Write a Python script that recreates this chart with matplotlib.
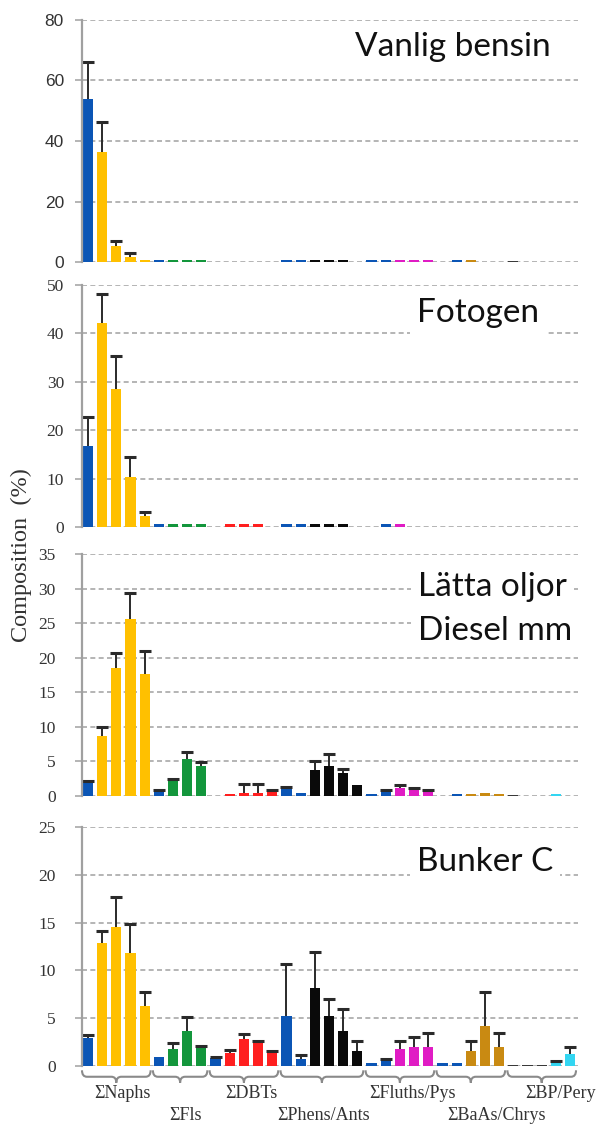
import numpy as np
import matplotlib
matplotlib.use('Agg')
import matplotlib.pyplot as plt
from matplotlib.path import Path
from matplotlib.patches import PathPatch
import matplotlib.transforms as mtransforms

# Compound groups and how many bars each has
groups = ['ΣNaphs', 'ΣFls', 'ΣDBTs', 'ΣPhens/Ants', 'ΣFluths/Pys', 'ΣBaAs/Chrys', 'ΣBP/Pery']
group_sizes = [5, 4, 5, 6, 5, 5, 5]

# Colours per group
blue = '#0b55b5'
group_colors = [
    [blue] + ['#ffc000'] * 4,
    [blue] + ['#13963c'] * 3,
    [blue] + ['#ff1f1f'] * 4,
    [blue, blue] + ['#0a0a0a'] * 4,
    [blue, blue] + ['#e01cc4'] * 3,
    [blue, blue] + ['#c98a12'] * 3,
    ['#3a3a3a'] * 3 + ['#33d6f2'] * 2,
]

panel_titles = [['Vanlig bensin'], ['Fotogen'], ['Lätta oljor', 'Diesel mm'], ['Bunker C']]
panel_ymax = [80, 50, 35, 25]
panel_ystep = [20, 10, 5, 5]

# Composition (%) per bar, 0 = no bar
vanlig = [54, 36.5, 5.3, 1.8, 0.6,
          0.6, 0.6, 0.6, 0.6,
          0, 0, 0, 0, 0,
          0.6, 0.6, 0.6, 0.6, 0.6, 0,
          0.6, 0.6, 0.6, 0.6, 0.6,
          0, 0.6, 0.6, 0, 0,
          0.3, 0, 0, 0, 0]
fotogen = [16.8, 42.2, 28.6, 10.3, 2.2,
           0.6, 0.6, 0.6, 0.6,
           0, 0.6, 0.6, 0.6, 0,
           0.6, 0.6, 0.6, 0.6, 0.6, 0,
           0, 0.6, 0.6, 0, 0,
           0, 0, 0, 0, 0,
           0, 0, 0, 0, 0]
latta = [2.0, 8.7, 18.5, 25.6, 17.7,
         0.7, 2.4, 5.4, 4.3,
         0, 0.3, 0.4, 0.4, 0.7,
         1.1, 0.4, 3.7, 4.4, 3.3, 1.6,
         0.3, 0.7, 1.2, 1.0, 0.8,
         0, 0.3, 0.35, 0.4, 0.35,
         0.15, 0, 0, 0.35, 0]
bunker = [2.9, 12.9, 14.5, 11.8, 6.3,
          0.9, 1.8, 3.7, 2.0,
          0.8, 1.4, 2.8, 2.5, 1.5,
          5.2, 0.7, 8.2, 5.2, 3.7, 1.6,
          0.3, 0.6, 1.8, 2.0, 2.0,
          0.3, 0.3, 1.6, 4.2, 2.0,
          0.12, 0.12, 0.12, 0.4, 1.3]

# Top of the upper error bar, 0 = no error bar
vanlig_err = [66, 46.4, 7.0, 3.0] + [0] * 31
fotogen_err = [22.7, 48.2, 35.4, 14.5, 3.1] + [0] * 30
latta_err = [2.1, 10.0, 20.7, 29.3, 21.0,
             0.8, 2.5, 6.3, 4.9,
             0, 0, 1.8, 1.8, 0.8,
             1.3, 0, 5.0, 6.1, 3.9, 0,
             0, 0.8, 1.6, 1.2, 0.9,
             0, 0, 0, 0, 0,
             0, 0, 0, 0, 0]
bunker_err = [3.2, 14.1, 17.7, 14.9, 7.7,
              0, 2.4, 5.1, 2.1,
              0.9, 1.7, 3.3, 2.6, 1.6,
              10.7, 1.1, 11.9, 7.0, 6.0, 2.6,
              0, 0.7, 2.6, 3.0, 3.4,
              0, 0, 2.6, 7.7, 3.4,
              0, 0, 0, 0.5, 2.0]

panels = [(vanlig, vanlig_err), (fotogen, fotogen_err), (latta, latta_err), (bunker, bunker_err)]

colors = [c for g in group_colors for c in g]
x = np.arange(sum(group_sizes))

W, H = 615, 1139
fig = plt.figure(figsize=(W / 100, H / 100), dpi=100)

# panel pixel boxes (top, bottom)
boxes = [(20, 262), (285, 527), (554, 796), (827, 1066)]
left, right = 82, 578
# title anchor in pixels: x, baselines
title_pos = [(355, [56]), (417, [322]), (418, [596, 640]), (417, [871])]

axes = []
for i, ((vals, errs), (top, bot)) in enumerate(zip(panels, boxes)):
    ax = fig.add_axes([left / W, 1 - bot / H, (right - left) / W, (bot - top) / H])
    axes.append(ax)
    vals = np.array(vals, dtype=float)
    errs = np.array(errs, dtype=float)
    ax.bar(x, vals, width=0.72, color=colors, zorder=3)
    # upper error bars only (no cap at the bar top)
    m = errs > vals
    ax.vlines(x[m], vals[m], errs[m], color='#2a2a2a', linewidth=1.4, zorder=4)
    ax.plot(x[m], errs[m], linestyle='none', marker='_', markersize=8,
            markeredgewidth=2.2, color='#2a2a2a', zorder=4)
    ax.set_xlim(-0.42, 34.56)
    ax.set_ylim(0, panel_ymax[i])
    ax.set_yticks(np.arange(0, panel_ymax[i] + 1, panel_ystep[i]))
    ax.yaxis.grid(True, linestyle=(0, (3, 2)), color='#a8a8a8', linewidth=1.2, zorder=0)
    ax.set_xticks([])
    for s in ['top', 'right', 'bottom']:
        ax.spines[s].set_visible(False)
    ax.spines['left'].set_color('#a0a0a0')
    ax.spines['left'].set_linewidth(1.6)
    ax.spines['left'].set_zorder(5)
    fam = 'Liberation Sans' if i == 0 else 'Liberation Serif'
    ax.tick_params(axis='y', length=5, color='#a8a8a8', width=1.2,
                   pad=8 if i < 2 else 14, labelsize=12.5, labelcolor='#333333')
    for lab in ax.get_yticklabels():
        lab.set_family(fam)
    tx, bases = title_pos[i]
    for line, b in zip(panel_titles[i], bases):
        t = fig.text(tx / W, 1 - b / H, line, family='Lato', fontsize=24,
                     ha='left', va='baseline', color='#111111', zorder=6)
        t.set_bbox(dict(facecolor='white', edgecolor='none', pad=5))

fig.text(21 / W, 1 - 555 / H, 'Composition  (%)', rotation=90, ha='center', va='center',
         family='Liberation Serif', fontsize=17.5, color='#333333')

# group braces and labels under the last panel
ax = axes[-1]
trans = mtransforms.blended_transform_factory(ax.transData, ax.transAxes)
label_shift = [0.4, 0.35, 0.5, 0.15, 0.9, 1.8, 1.3]
start = 0
for k, (name, n) in enumerate(zip(groups, group_sizes)):
    x0, x1 = start - 0.42, start + n - 1 + 0.42
    xm = (x0 + x1) / 2
    yt, yl, yb = -0.018, -0.045, -0.07
    r = 0.35
    verts = [(x0, yt), (x0, yl), (x0 + r, yl),
             (xm - r, yl), (xm, yl), (xm, yb),
             (xm, yl), (xm + r, yl),
             (x1 - r, yl), (x1, yl), (x1, yt)]
    codes = [Path.MOVETO, Path.CURVE3, Path.CURVE3,
             Path.LINETO, Path.CURVE3, Path.CURVE3,
             Path.CURVE3, Path.CURVE3,
             Path.LINETO, Path.CURVE3, Path.CURVE3]
    patch = PathPatch(Path(verts, codes), transform=trans, facecolor='none',
                      edgecolor='#8a8a8a', linewidth=1.5, clip_on=False)
    ax.add_patch(patch)
    ty = -0.117 if k % 2 == 0 else -0.209
    ax.text(xm + label_shift[k], ty, name, transform=trans, ha='center', va='center',
            family='Liberation Serif', fontsize=13, color='#333333')
    start += n

fig.savefig('out.png', dpi=100, facecolor='white')
